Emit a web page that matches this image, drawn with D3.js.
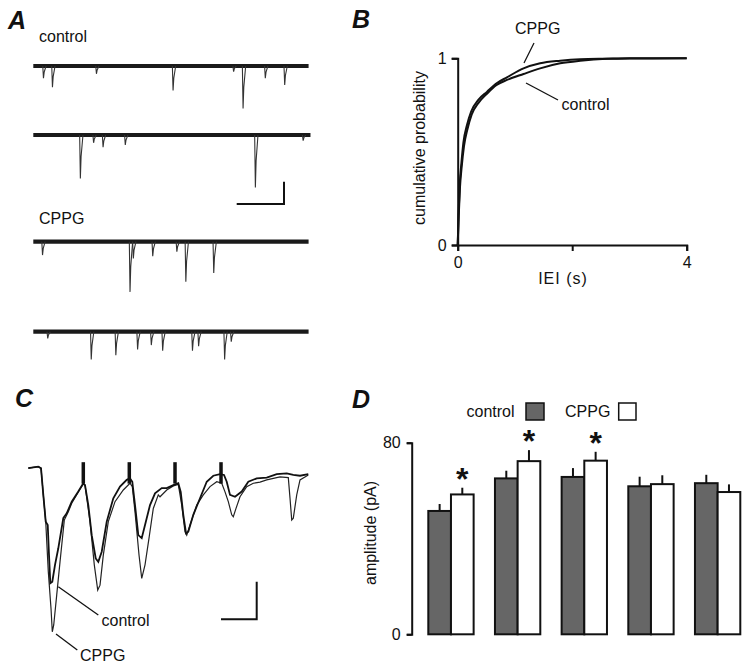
<!DOCTYPE html>
<html>
<head>
<meta charset="utf-8">
<script src="https://cdn.jsdelivr.net/npm/d3@7"></script>
<style>
  html, body { margin: 0; padding: 0; background: #fff; }
  svg { display: block; font-family: "Liberation Sans", Arial, sans-serif; }
  text { fill: #111; }
</style>
</head>
<body>
<svg id="chart" width="750" height="671"></svg>
<script>
// ---------------- DATA ----------------
// Panel A: spontaneous events (time s, amplitude pA) for four sweeps
const sweepLabels = ["control", "", "CPPG", ""];
const sweepDuration = [5.82, 5.86, 5.82, 5.82];
const sweep1Events = [[0.21, 11], [0.40, 19], [1.33, 7], [2.95, 22], [4.23, 5], [4.43, 38], [4.90, 11], [5.31, 17]];
const sweep2Events = [[0.99, 39], [1.27, 7], [1.47, 11], [1.94, 9], [4.69, 47], [5.70, 5]];
const sweep3Events = [[0.19, 12], [2.04, 45], [2.11, 15], [2.52, 13], [3.03, 9], [3.22, 36], [3.81, 28]];
const sweep4Events = [[0.30, 6], [1.22, 25], [1.74, 21], [2.20, 16], [2.49, 12], [2.73, 17], [3.36, 17], [3.49, 13], [4.04, 25], [4.18, 9]];

// Panel B: cumulative distributions of inter-event interval (s, probability)
const ieiControl = [[0,0],[0.017,0.15],[0.04,0.31],[0.07,0.42],[0.11,0.53],[0.17,0.62],[0.245,0.70],[0.36,0.76],[0.51,0.81],[0.68,0.857],[0.86,0.884],[1.15,0.916],[1.44,0.946],[1.79,0.973],[2.14,0.987],[2.6,0.997],[3.0,0.999],[4,1]];
const ieiCPPG    = [[0,0],[0.015,0.16],[0.035,0.32],[0.065,0.44],[0.10,0.55],[0.16,0.64],[0.235,0.715],[0.36,0.777],[0.51,0.82],[0.68,0.866],[0.86,0.898],[1.15,0.946],[1.44,0.973],[1.79,0.987],[2.14,0.995],[2.6,0.998],[3.0,1.0],[4,1]];
const ieiTicks = [0, 2, 4];
const ieiTickLabels = ["0", "", "4"];
const probTicks = [0, 1];

// Panel C: evoked currents, time (ms) and current (pA)
const evokedControl = [[0,-4],[14,0],[17.8,-4],[21,-75],[24.4,-146],[27.2,-155],[29,-235],[30.8,-310],[33.6,-306],[37.4,-261],[42,-217],[49,-137],[53.8,-124],[60.8,-93],[70,-66],[77,-44],[79.4,-49],[84,-102],[88.8,-182],[94.4,-244],[98,-253],[102.8,-226],[109.8,-146],[119,-84],[128.4,-53],[137.8,-35],[142.4,-31],[145.6,-40],[149.4,-102],[154,-182],[158.8,-190],[163.4,-155],[170.4,-102],[177.4,-71],[186.8,-57],[193.8,-57],[203,-49],[210,-44],[213.4,-67],[217,-128],[220.8,-177],[224,-173],[231,-128],[240.4,-84],[249.8,-40],[259,-24],[268.4,-20],[274,-22],[277.8,-40],[282.4,-75],[289.4,-80],[298.8,-66],[308,-40],[319.8,-31],[333.8,-29],[347.8,-20],[361.8,-18],[371,-22],[380.4,-24],[392,-20]];
const evokedCPPG = [[0,-4],[14,0],[17.8,-4],[21,-75],[24.4,-146],[28,-279],[31.8,-377],[33.6,-439],[35.6,-421],[39.8,-341],[44.4,-253],[50.4,-142],[56,-120],[60.8,-97],[70,-67],[77,-46],[79.4,-49],[86.4,-146],[92.4,-261],[97.2,-328],[100.4,-315],[105,-235],[112,-146],[121.4,-93],[133,-62],[142.4,-44],[145.6,-53],[149.4,-120],[155,-235],[158.8,-297],[163.4,-261],[169,-190],[175,-111],[182,-75],[184.4,-80],[193.8,-62],[203,-51],[210,-47],[214.8,-102],[219.4,-173],[221.8,-182],[226.4,-155],[235.8,-102],[245,-75],[254.4,-53],[263.8,-40],[270.8,-44],[275.4,-67],[280,-93],[284.8,-128],[287,-133],[290.8,-111],[296.4,-80],[305.8,-53],[315,-44],[324.4,-41],[333.8,-35],[352.4,-27],[364,-29],[366.4,-84],[368.8,-142],[371,-137],[375.8,-75],[380.4,-35],[392,-22]];
const stimTimes = [77, 141.4, 205.4, 269.8];

// Panel D: amplitudes (pA), mean and mean+SEM
const groups = ["1", "2", "3", "4", "5"];
const seriesNames = ["control", "CPPG"];
const ampControl = [51.5, 65.1, 65.7, 61.8, 63.1];
const ampControlErr = [54.4, 68.3, 69.4, 65.8, 66.6];
const ampCPPG = [58.4, 72.3, 72.5, 62.7, 59.4];
const ampCPPGErr = [61.2, 76.9, 76.2, 66.4, 62.6];
const significant = [true, true, true, false, false];
const ampTicks = [0, 80];

// ---------------- DRAW ----------------
const svg = d3.select("#chart");
const FS = 16;

function panelLetter(t, x, y) {
  svg.append("text").attr("x", x).attr("y", y).text(t)
    .attr("font-size", 25).attr("font-weight", "bold").attr("font-style", "italic");
}
panelLetter("A", 8, 29);
panelLetter("B", 352, 27.5);
panelLetter("C", 15, 407);
panelLetter("D", 352, 408);

// ----- Panel A -----
const gA = svg.append("g");
const xA = d3.scaleLinear().domain([0, 1]).range([33.3, 80.6]);      // 1 s = 47.3 px
const ampScaleA = d3.scaleLinear().domain([0, 20]).range([0, 22.3]); // 20 pA
const sweepBase = [66, 135, 241.7, 331.7];
const sweeps = [sweep1Events, sweep2Events, sweep3Events, sweep4Events];
sweeps.forEach((ev, i) => {
  const b = sweepBase[i];
  gA.append("line").attr("x1", xA(0)).attr("x2", xA(sweepDuration[i]))
    .attr("y1", b).attr("y2", b).attr("stroke", "#1a1a1a").attr("stroke-width", 4.2);
  const line = d3.line().x(d => xA(d[0])).y(d => b + ampScaleA(d[1]));
  ev.forEach(e => {
    const pts = [[e[0] - 0.01, 0], [e[0] + 0.005, e[1]], [e[0] + 0.02, e[1] * 0.5], [e[0] + 0.06, 0]];
    gA.append("path").attr("d", line(pts)).attr("fill", "none")
      .attr("stroke", "#333").attr("stroke-width", 1.1);
  });
});
gA.append("text").attr("x", 39).attr("y", 41.7).attr("font-size", FS).text(sweepLabels[0]);
gA.append("text").attr("x", 39).attr("y", 223.5).attr("font-size", FS).text(sweepLabels[2]);
const sbAx = 284, sbAy = 204;
gA.append("path").attr("fill", "none").attr("stroke", "#111").attr("stroke-width", 2)
  .attr("d", `M${sbAx - (xA(1) - xA(0))},${sbAy}H${sbAx}V${sbAy - ampScaleA(20)}`);

// ----- Panel B -----
const gB = svg.append("g");
const xB = d3.scaleLinear().domain([0, 4]).range([457.7, 686.7]);
const yB = d3.scaleLinear().domain([0, 1]).range([245, 58.3]);
const axB = gB.append("g").attr("transform", `translate(0,${yB(0)})`)
  .call(d3.axisBottom(xB).tickValues(ieiTicks).tickFormat((d, i) => ieiTickLabels[i]).tickSizeOuter(0).tickSize(6).tickPadding(6));
const ayB = gB.append("g").attr("transform", `translate(${xB(0)},0)`)
  .call(d3.axisLeft(yB).tickValues(probTicks).tickFormat(d3.format("d")).tickSizeOuter(0).tickSize(6).tickPadding(5));
[axB, ayB].forEach(a => {
  a.select(".domain").attr("stroke", "#111").attr("stroke-width", 2);
  a.selectAll(".tick line").attr("stroke", "#111").attr("stroke-width", 2);
  a.selectAll(".tick text").attr("font-size", FS).attr("fill", "#111").attr("font-family", "Liberation Sans, Arial, sans-serif");
});
const lineB = d3.line().x(d => xB(d[0])).y(d => yB(d[1])).curve(d3.curveMonotoneX);
gB.append("path").attr("d", lineB(ieiControl)).attr("fill", "none").attr("stroke", "#111").attr("stroke-width", 2);
gB.append("path").attr("d", lineB(ieiCPPG)).attr("fill", "none").attr("stroke", "#111").attr("stroke-width", 2);
gB.append("text").attr("x", 563).attr("y", 284).attr("text-anchor", "middle").attr("font-size", FS).attr("letter-spacing", 1).text("IEI (s)");
gB.append("text").attr("transform", `translate(425,148) rotate(-90)`).attr("text-anchor", "middle").attr("font-size", FS).text("cumulative probability");
gB.append("text").attr("x", 515).attr("y", 33.5).attr("font-size", FS).text("CPPG");
gB.append("text").attr("x", 561.5).attr("y", 110).attr("font-size", FS).text("control");
gB.append("line").attr("x1", 534).attr("y1", 43).attr("x2", 524).attr("y2", 63).attr("stroke", "#111").attr("stroke-width", 1.3);
gB.append("line").attr("x1", 526).attr("y1", 83).attr("x2", 558).attr("y2", 100).attr("stroke", "#111").attr("stroke-width", 1.3);

// ----- Panel C -----
const gC = svg.append("g");
const xC = d3.scaleLinear().domain([0, 392]).range([28.3, 308.3]);
const yC = d3.scaleLinear().domain([0, -100]).range([466.7, 504.3]);
const lineC = d3.line().x(d => xC(d[0])).y(d => yC(d[1]));
gC.append("path").attr("d", lineC(evokedCPPG)).attr("fill", "none").attr("stroke", "#222").attr("stroke-width", 1.2);
gC.append("path").attr("d", lineC(evokedControl)).attr("fill", "none").attr("stroke", "#111").attr("stroke-width", 1.8);
stimTimes.forEach(t => {
  gC.append("line").attr("x1", xC(t)).attr("x2", xC(t)).attr("y1", yC(12)).attr("y2", yC(-45))
    .attr("stroke", "#111").attr("stroke-width", 3.5);
});
gC.append("text").attr("x", 101.5).attr("y", 625.5).attr("font-size", FS).text("control");
gC.append("text").attr("x", 80).attr("y", 660.5).attr("font-size", FS).text("CPPG");
gC.append("line").attr("x1", 58.3).attr("y1", 586.7).attr("x2", 98.3).attr("y2", 615).attr("stroke", "#111").attr("stroke-width", 1.3);
gC.append("line").attr("x1", 56).attr("y1", 634).attr("x2", 77.3).attr("y2", 650).attr("stroke", "#111").attr("stroke-width", 1.3);
const sbCx = 256.7, sbCy = 619.3;
gC.append("path").attr("fill", "none").attr("stroke", "#111").attr("stroke-width", 2)
  .attr("d", `M${sbCx - (xC(50) - xC(0))},${sbCy}H${sbCx}V${sbCy - (yC(-100) - yC(0))}`);

// ----- Panel D -----
const gD = svg.append("g");
const xD = d3.scaleBand().domain(groups).range([428.3, 740.3]).paddingInner(0.32).paddingOuter(0);
const xSub = d3.scaleBand().domain(seriesNames).range([0, xD.bandwidth()]);
const yD = d3.scaleLinear().domain([0, 80]).range([634.3, 442.7]);
const ayD = gD.append("g").attr("transform", `translate(411.7,0)`)
  .call(d3.axisLeft(yD).tickValues(ampTicks).tickSizeOuter(0).tickSize(5).tickPadding(6));
ayD.select(".domain").attr("stroke", "#111").attr("stroke-width", 2);
ayD.selectAll(".tick line").attr("stroke", "#111").attr("stroke-width", 2);
ayD.selectAll(".tick text").attr("font-size", FS).attr("fill", "#111").attr("font-family", "Liberation Sans, Arial, sans-serif");

const series = [
  { name: "control", vals: ampControl, errs: ampControlErr, fill: "#666666" },
  { name: "CPPG", vals: ampCPPG, errs: ampCPPGErr, fill: "#ffffff" }
];
series.forEach(s => {
  groups.forEach((g, i) => {
    const x0 = xD(g) + xSub(s.name);
    const cx = x0 + xSub.bandwidth() / 2;
    gD.append("line").attr("x1", cx).attr("x2", cx).attr("y1", yD(s.vals[i])).attr("y2", yD(s.errs[i]))
      .attr("stroke", "#111").attr("stroke-width", 2);
    gD.append("rect").attr("x", x0).attr("y", yD(s.vals[i])).attr("width", xSub.bandwidth())
      .attr("height", yD(0) - yD(s.vals[i])).attr("fill", s.fill).attr("stroke", "#111").attr("stroke-width", 2);
  });
});
groups.forEach((g, i) => {
  if (!significant[i]) return;
  const cx = xD(g) + xSub("CPPG") + xSub.bandwidth() / 2;
  gD.append("text").attr("x", cx).attr("y", yD(ampCPPGErr[i]) + 2).attr("text-anchor", "middle")
    .attr("font-size", 32).attr("font-weight", "bold").text("*");
});
gD.append("text").attr("transform", `translate(376,533) rotate(-90)`).attr("text-anchor", "middle").attr("font-size", FS).text("amplitude (pA)");
gD.append("text").attr("x", 466.5).attr("y", 417.3).attr("font-size", FS).text(seriesNames[0]);
gD.append("rect").attr("x", 526).attr("y", 403).attr("width", 18).attr("height", 17).attr("fill", "#666666").attr("stroke", "#111").attr("stroke-width", 1.5);
gD.append("text").attr("x", 565).attr("y", 417.3).attr("font-size", FS).text(seriesNames[1]);
gD.append("rect").attr("x", 618.7).attr("y", 403).attr("width", 17.3).attr("height", 17).attr("fill", "#fff").attr("stroke", "#111").attr("stroke-width", 1.5);
</script>
</body>
</html>
